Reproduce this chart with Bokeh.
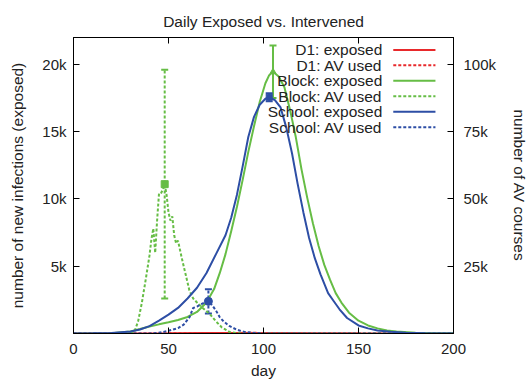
from bokeh.plotting import figure
from bokeh.models import Range1d, LinearAxis, FixedTicker, ColumnDataSource, Whisker, TeeHead
from bokeh.embed import file_html
from bokeh.resources import INLINE
from bokeh.core.properties import value

FONT = "Liberation Sans"
TXT = "#222222"

# ---------------- data ----------------
title_text = "Daily Exposed vs. Intervened"
x_ticks = [0, 50, 100, 150, 200]
y_ticks = [5000, 10000, 15000, 20000]
y_tick_labels = ["5k", "10k", "15k", "20k"]
y2_ticks = [25000, 50000, 75000, 100000]
y2_tick_labels = ["25k", "50k", "75k", "100k"]

legend_labels = ["D1: exposed", "D1: AV used", "Block: exposed", "Block: AV used",
                 "School: exposed", "School: AV used"]

d1_day = [0, 30, 50, 70, 90, 110, 130, 150, 170, 200]
d1_exposed = [0, 5, 15, 30, 45, 40, 25, 10, 3, 0]
d1_av = [0, 0, 50, 150, 250, 200, 100, 40, 10, 0]

block_exp_day = [0, 10, 20, 30, 35, 40, 45, 50, 55, 60, 65, 70, 74, 77, 80, 83, 86, 89, 92, 95,
                 98, 101, 103, 105, 108, 111, 114, 117, 120, 123, 126, 129, 132, 135, 138, 141,
                 145, 150, 155, 160, 165, 170, 180, 190, 200]
block_exposed = [0, 5, 25, 150, 330, 520, 680, 830, 1000, 1230, 1600, 2300, 3300, 4500, 5900,
                 7600, 9400, 11400, 13500, 15400, 17200, 18600, 19200, 19450, 19100, 18300,
                 16600, 14600, 12200, 10100, 8200, 6500, 5100, 4000, 3000, 2300, 1550, 950,
                 600, 380, 230, 150, 60, 25, 10]

block_av_day = [30, 32, 34, 36, 38, 40, 41, 42, 43, 44, 45, 46, 47, 48, 49, 50, 51, 52, 53, 54,
                55, 57, 59, 61, 63, 65, 68, 72, 75, 78, 82, 86, 90, 200]
block_av = [0, 600, 4500, 11500, 20000, 29000, 35000, 39000, 30000, 42000, 52000, 52000, 53500,
            55500, 51500, 45000, 42000, 43500, 36500, 33500, 34500, 28000, 22000, 16000, 13000,
            11500, 9500, 7000, 4500, 2300, 600, 100, 0, 0]

school_exp_day = [0, 10, 20, 30, 35, 40, 45, 50, 55, 60, 65, 70, 75, 80, 83, 86, 89, 92, 95, 98,
                  101, 103, 106, 109, 112, 115, 118, 121, 124, 127, 130, 134, 137, 140, 144,
                  150, 155, 160, 167, 175, 185, 200]
school_exposed = [0, 10, 40, 150, 300, 550, 950, 1400, 1900, 2600, 3400, 4500, 5900, 7300, 8600,
                  10300, 12400, 14600, 16100, 17000, 17450, 17560, 17350, 16800, 15300, 13400,
                  11100, 9000, 7100, 5600, 4400, 3000, 2400, 1800, 1150, 600, 380, 230, 130, 60,
                  25, 5]

school_av_day = [0, 40, 45, 50, 55, 58, 61, 63, 65, 67, 69, 71, 73, 75, 77, 79, 82, 86, 90, 95,
                 100, 110, 200]
school_av = [0, 0, 250, 1000, 2000, 3300, 6000, 9500, 10000, 10800, 11500, 11950, 10500, 8500,
             6000, 4500, 2800, 1400, 600, 200, 50, 0, 0]

# error bars (day, mean, +/- spread)
block_exp_err = (105, 19450, 1950)
block_av_err = (48, 55500, 42500)
school_exp_err = (103, 17560, 300)
school_av_err = (71, 11950, 4500)

# ---------------- style ----------------
RED = "#e8292b"
GREEN = "#66bd45"
BLUE = "#2d4ea5"
LW = 2
DASH = "3 2"

p = figure(frame_width=380, frame_height=296,
           x_range=Range1d(0, 200), y_range=Range1d(0, 22000),
           output_backend="svg", toolbar_location=None,
           min_border_left=73, min_border_top=37, min_border_right=77, min_border_bottom=49,
           title=title_text)
p.extra_y_ranges = {"av": Range1d(0, 110000)}
p.xgrid.visible = False
p.ygrid.visible = False
p.outline_line_color = "#000000"
p.outline_line_width = 1
p.background_fill_color = "white"
p.border_fill_color = "white"

p.title.align = "center"
p.title.text_font = FONT
p.title.text_font_size = "15.5px"
p.title.text_font_style = "normal"
p.title.text_color = TXT
p.title.text_line_height = 0.6
p.title.standoff = 16


def style_axis(ax):
    ax.axis_line_color = "#000000"
    ax.major_tick_line_color = "#000000"
    ax.major_tick_in = 6
    ax.major_tick_out = 0
    ax.minor_tick_line_color = None
    ax.major_label_text_font = FONT
    ax.major_label_text_font_size = "15px"
    ax.major_label_text_color = TXT
    ax.axis_label_text_font = FONT
    ax.axis_label_text_font_size = "15.5px"
    ax.axis_label_text_font_style = "normal"
    ax.axis_label_text_color = TXT


xa = p.xaxis[0]
xa.ticker = FixedTicker(ticks=x_ticks)
xa.axis_label = "day"
style_axis(xa)
xa.major_label_standoff = 10
xa.axis_label_standoff = 5

ya = p.yaxis[0]
ya.ticker = FixedTicker(ticks=y_ticks)
ya.major_label_overrides = {t: l for t, l in zip(y_ticks, y_tick_labels)}
ya.axis_label = "number of new infections (exposed)"
style_axis(ya)
ya.major_label_standoff = 7
ya.axis_label_standoff = 13

y2 = LinearAxis(y_range_name="av", ticker=FixedTicker(ticks=y2_ticks),
                axis_label="number of AV courses")
y2.major_label_overrides = {t: l for t, l in zip(y2_ticks, y2_tick_labels)}
style_axis(y2)
y2.major_label_standoff = 10
y2.axis_label_standoff = 12
p.add_layout(y2, "right")

# mirrored x ticks along the top edge (tick marks only, no labels)
top = LinearAxis(ticker=FixedTicker(ticks=[], minor_ticks=x_ticks))
top.axis_line_color = "#000000"
top.major_tick_line_color = None
top.minor_tick_line_color = "#000000"
top.minor_tick_in = 6
top.minor_tick_out = 0
top.major_label_standoff = 0
p.add_layout(top, "above")

# ---------------- curves ----------------
p.line(d1_day, d1_exposed, line_color=RED, line_width=LW)
p.line(d1_day, d1_av, line_color=RED, line_width=LW, line_dash=DASH, y_range_name="av")
p.line(block_exp_day, block_exposed, line_color=GREEN, line_width=LW)
p.line(block_av_day, block_av, line_color=GREEN, line_width=LW, line_dash=DASH, y_range_name="av")
p.line(school_exp_day, school_exposed, line_color=BLUE, line_width=LW)
p.line(school_av_day, school_av, line_color=BLUE, line_width=LW, line_dash=DASH, y_range_name="av")


def errbar(e, color, dash, rng, marker, size):
    d, m, s = e
    src = ColumnDataSource(dict(x=[d], y=[m], lo=[m - s], hi=[m + s]))
    kw = {}
    if rng != "default":
        kw["y_range_name"] = rng
    w = Whisker(base="x", upper="hi", lower="lo", source=src, dimension="height",
                line_color=color, line_width=LW, line_dash=dash,
                upper_head=TeeHead(size=7, line_color=color, line_width=LW),
                lower_head=TeeHead(size=7, line_color=color, line_width=LW), **kw)
    p.add_layout(w)
    p.scatter("x", "y", source=src, marker=marker, size=size, fill_color=color,
              line_color=color, **kw)


errbar(block_exp_err, GREEN, "solid", "default", "triangle", 6)
errbar(block_av_err, GREEN, DASH, "av", "square", 7)
errbar(school_exp_err, BLUE, "solid", "default", "square", 6)
errbar(school_av_err, BLUE, DASH, "av", "circle", 8)

# ---------------- key (gnuplot style: label then sample) ----------------
colors = [RED, RED, GREEN, GREEN, BLUE, BLUE]
dashes = ["solid", DASH, "solid", DASH, "solid", DASH]
key_text_x = 162.5
key_x0, key_x1 = 168.3, 190.5
key_top, key_step = 21080, 1150
key_y = [key_top - i * key_step for i in range(len(legend_labels))]

p.text(x=[key_text_x] * len(legend_labels), y=key_y, text=legend_labels,
       text_font=value(FONT), text_font_size=value("15.5px"), text_color=TXT,
       text_align="right", text_baseline="middle")
for yy, c, d in zip(key_y, colors, dashes):
    p.segment(x0=[key_x0], y0=[yy], x1=[key_x1], y1=[yy], line_color=c, line_width=LW,
              line_dash=d)

open("out.html", "w").write(file_html(p, INLINE))
